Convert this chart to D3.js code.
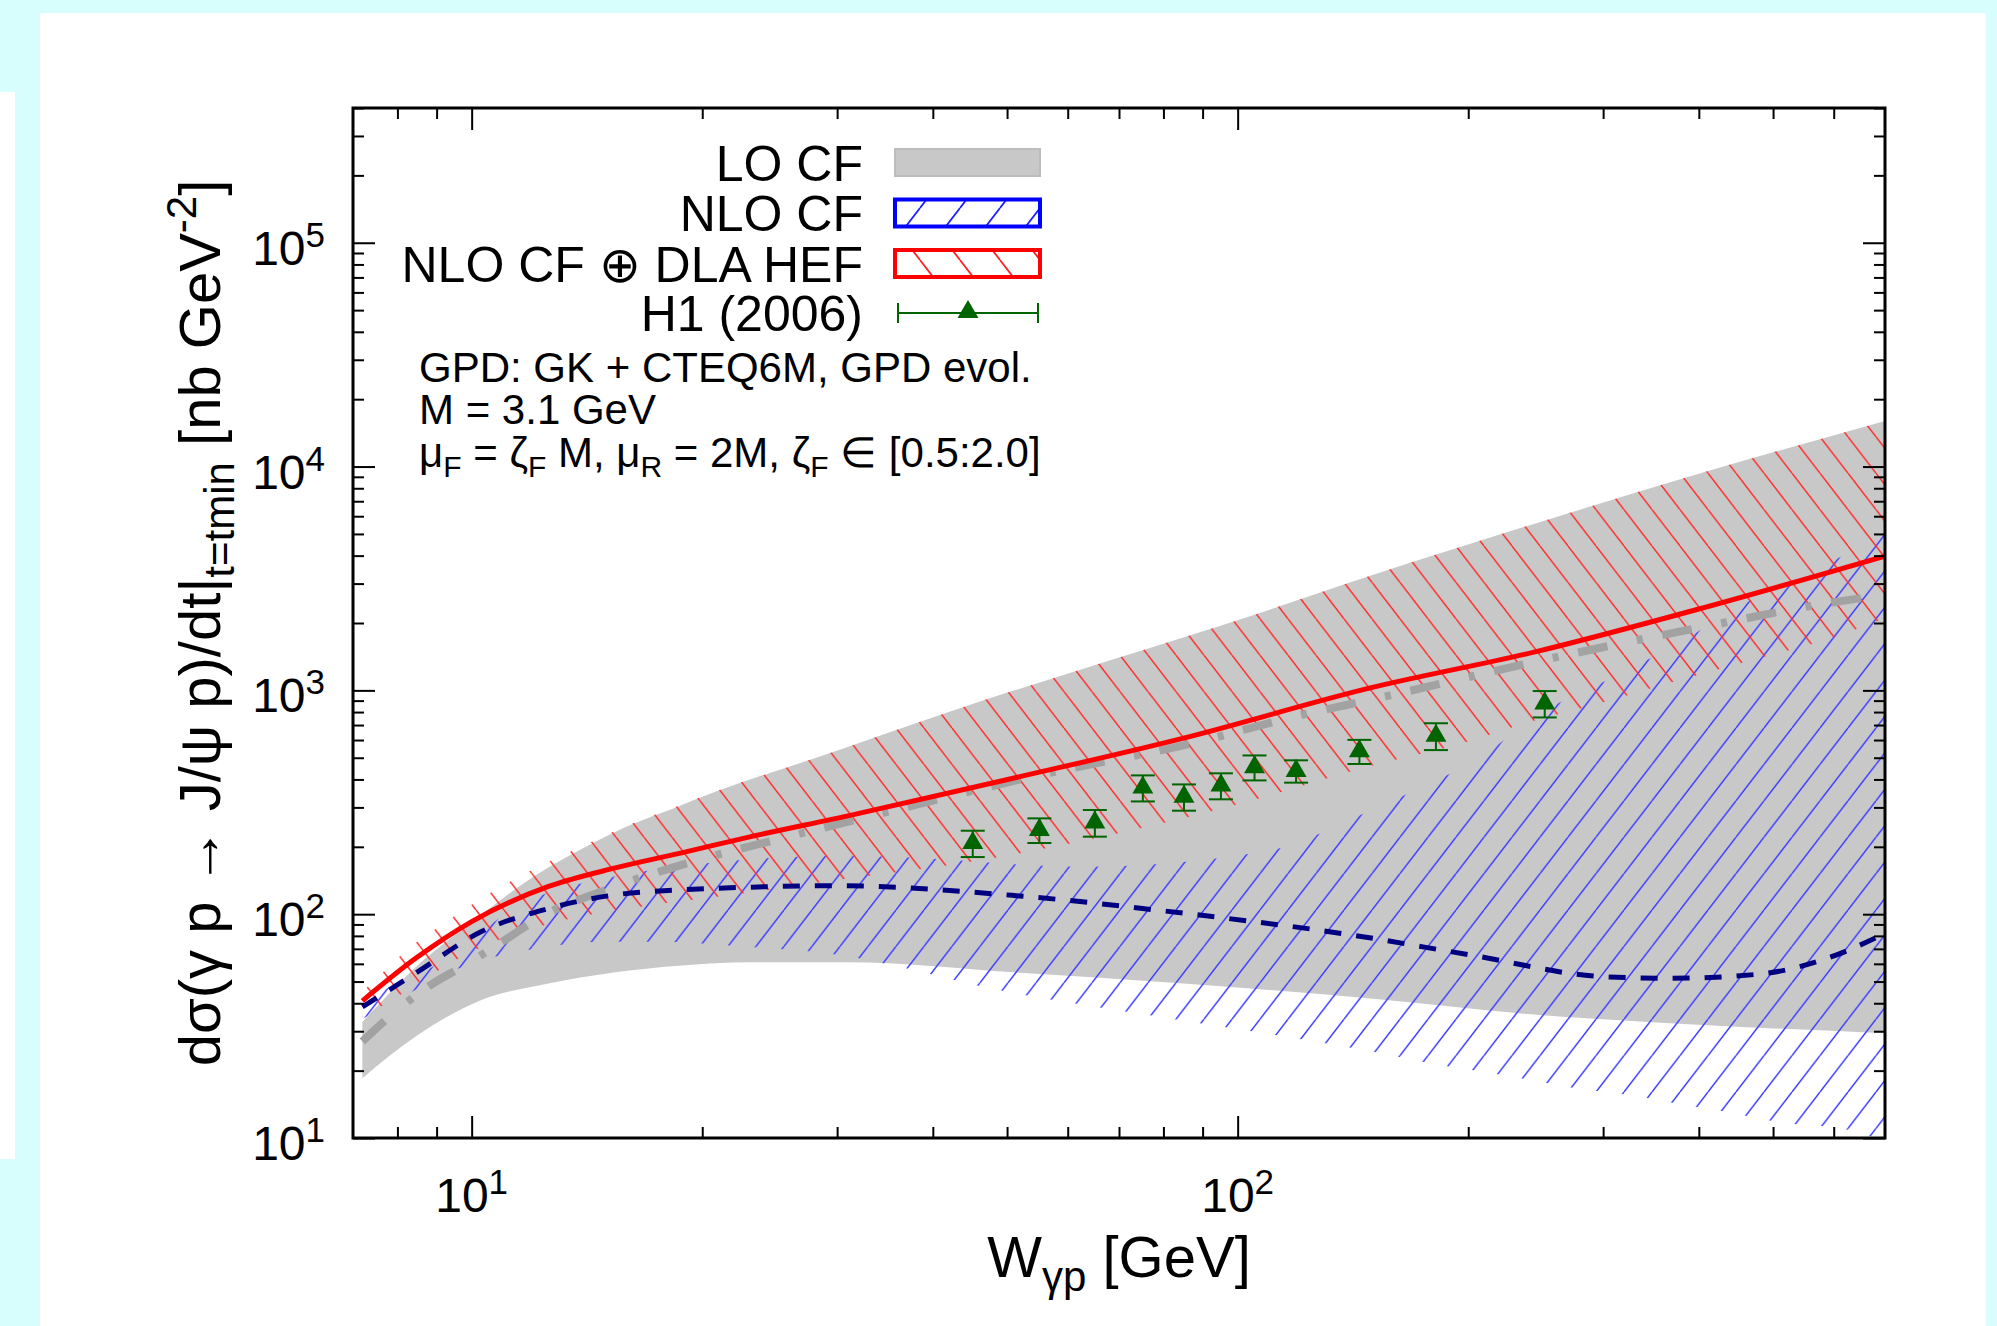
<!DOCTYPE html>
<html>
<head>
<meta charset="utf-8">
<script src="https://cdnjs.cloudflare.com/ajax/libs/d3/7.8.5/d3.min.js"></script>
<style>
  html, body { margin: 0; padding: 0; background: #d8fdfd; }
  svg { display: block; }
  text { font-family: "Liberation Sans", Arial, Helvetica, sans-serif; fill: #000; }
</style>
</head>
<body>
<svg id="chart" width="1997" height="1326"></svg>
<script>
// central curves (W in GeV, dsigma/dt in nb GeV^-2)
const hefW   = [7.2, 8.45, 10, 12.6, 15.4, 18.8, 23, 31, 51.4, 85, 149, 246, 405, 700];
const hefVal = [41, 63.5, 92.7, 133, 161, 188, 221, 275, 408, 612, 1026, 1493, 2336, 3980];

const nloW   = [7.2, 8.45, 10.3, 12.6, 15.4, 18.8, 23, 30, 51.4, 85, 140, 200, 300, 366, 480, 588, 700];
const nloVal = [38.5, 54.5, 83.6, 106, 122, 128.5, 132, 134, 121, 101, 81, 66, 52.6, 51.7, 54, 63.5, 82];

const loW   = [7.2, 7.9, 8.9, 9.7, 11.2, 12.1, 15.4, 19.8, 25.5, 33.7, 54, 89, 118, 156, 258, 430, 558, 700];
const loVal = [27, 36, 49, 58, 79, 94, 133, 175, 219, 278, 412, 590, 760, 940, 1397, 2000, 2377, 2680];

// LO CF band (grey)
const loUpW   = [7.2, 8.45, 10, 12, 14.4, 16.2, 18.3, 20.8, 23.7, 26.8, 31.1, 46.5, 69, 104, 149, 246, 405, 700];
const loUpVal = [33, 58, 92, 146, 208, 252, 296, 352, 412, 473, 562, 900, 1380, 2150, 3250, 5600, 9400, 16000];
const loLoW   = [7.2, 8.45, 10.3, 12.6, 15.4, 18.8, 23, 31, 51, 85, 149, 246, 405, 700];
const loLoVal = [18.5, 28.4, 41.4, 49, 55, 59, 61, 61, 55, 49, 42, 35.5, 32, 29.4];

// NLO CF band (blue hatch)
const nloUpW   = [7.2, 8.8, 11.8, 15.3, 18.6, 22.6, 29.6, 34.4, 62.7, 109, 124, 140, 171, 205, 249, 311, 377, 465, 536, 661, 700];
const nloUpVal = [42, 57, 114, 147, 163, 175, 182, 181, 163, 191, 219, 264, 360, 490, 793, 1156, 1629, 2500, 3075, 4560, 5000];
const nloLoW   = [7.2, 8.2, 9.7, 12.2, 14.8, 17.7, 22.6, 30.8, 38, 44.5, 76, 111, 154, 178, 208, 240, 276, 323, 372, 434, 506, 632, 700];
const nloLoVal = [34, 43.5, 58, 70.5, 75.4, 75.4, 71.7, 65, 56, 49, 35.5, 29, 23.9, 21.6, 19.8, 18.2, 16.7, 15.6, 14.3, 13.1, 11.8, 10.8, 9.6];

// NLO CF + DLA HEF band (red hatch)
const hefUpW   = [7.2, 7.6, 8.3, 9.15, 10.64, 12, 14.4, 16.2, 18.3, 20.8, 23.7, 26.8, 31.1, 46.5, 69, 104, 149, 246, 405, 700];
const hefUpVal = [45, 53.6, 71, 90, 126, 158, 212, 254, 298, 353, 412, 473, 562, 900, 1380, 2150, 3250, 5600, 9400, 16000];
const hefLoW   = [7.2, 7.64, 10, 13, 16.2, 21.9, 30, 46.5, 71.6, 109, 143, 200, 246, 282, 366, 480, 588, 700];
const hefLoVal = [34.8, 39, 68, 93, 106.5, 122, 142, 175, 234, 336, 442, 591, 739, 834, 1079, 1396, 1687, 2100];

// H1 (2006) data
const h1W   = [45.1, 55.1, 65.1, 75.2, 85.1, 95.1, 105.2, 119.2, 144.2, 181.5, 251.7];
const h1Val = [208, 238, 257, 368, 335, 376, 454, 437, 535, 627, 875];
const h1Err = [28, 30, 35, 49, 45, 50, 58, 50, 66, 86, 118];

// axes
const xMajor = [10, 100];
const xMajorExp = ["1", "2"];
const xMinor = [8, 9, 20, 30, 40, 50, 60, 70, 80, 90, 200, 300, 400, 500, 600];
const yMajor = [10, 100, 1000, 10000, 100000];
const yMajorExp = ["1", "2", "3", "4", "5"];
const yMinor = [];
[10, 100, 1000, 10000, 100000].forEach(d => [2, 3, 4, 5, 6, 7, 8, 9].forEach(m => { if (d * m <= 4e5) yMinor.push(d * m); }));

const legendLabels = ["LO CF", "NLO CF", "NLO CF \u2295 DLA HEF", "H1 (2006)"];

const svg = d3.select("#chart");
const L = 353, R = 1885, T = 108, B = 1138;

// page panels
svg.append("rect").attr("x", 0).attr("y", 0).attr("width", 1997).attr("height", 1326).attr("fill", "#d8fdfd");
svg.append("rect").attr("x", 40).attr("y", 13).attr("width", 1946).attr("height", 1313).attr("fill", "#fff");
svg.append("rect").attr("x", 0).attr("y", 92).attr("width", 15).attr("height", 1067).attr("fill", "#fff");

const x = d3.scaleLog().domain([7, 700]).range([L, R]);
const y = d3.scaleLog().domain([10, 4e5]).range([B, T]);

const defs = svg.append("defs");
defs.append("clipPath").attr("id", "plotclip")
  .append("rect").attr("x", L).attr("y", T).attr("width", R - L).attr("height", B - T);

function hatch(id, w, dir, color, sw) {
  const h = w * 1.3;
  const p = defs.append("pattern").attr("id", id).attr("patternUnits", "userSpaceOnUse")
    .attr("width", w).attr("height", h);
  let d;
  if (dir === "/") d = `M${-w},${h}L0,0M0,${h}L${w},0M${w},${h}L${2 * w},0`;
  else d = `M${-w},0L0,${h}M0,0L${w},${h}M${w},0L${2 * w},${h}`;
  p.append("path").attr("d", d).attr("stroke", color).attr("stroke-width", sw).attr("fill", "none");
}
hatch("hBlue", 28, "/", "#4040ff", 1.5);
hatch("hRed", 28, "\\", "#ff3030", 1.5);
hatch("hBlueL", 40, "/", "#2020ff", 1.8);
hatch("hRedL", 40, "\\", "#ff2020", 1.8);

const line = d3.line().x(d => x(d[0])).y(d => y(d[1])).curve(d3.curveMonotoneX);
const pts = (ws, vs) => ws.map((w, i) => [w, vs[i]]);
function band(upW, upV, loW, loV) {
  const lo = pts(loW, loV).reverse();
  return line(pts(upW, upV)) + line(lo).replace(/^M/, "L") + "Z";
}

const plot = svg.append("g").attr("clip-path", "url(#plotclip)");
plot.append("path").attr("d", band(loUpW, loUpVal, loLoW, loLoVal)).attr("fill", "#c8c8c8");
plot.append("path").attr("d", band(nloUpW, nloUpVal, nloLoW, nloLoVal)).attr("fill", "url(#hBlue)");
plot.append("path").attr("d", band(hefUpW, hefUpVal, hefLoW, hefLoVal)).attr("fill", "url(#hRed)");

plot.append("path").attr("d", line(pts(loW, loVal))).attr("fill", "none")
  .attr("stroke", "#a2a2a2").attr("stroke-width", 8).attr("stroke-dasharray", "30,30,6,20");
plot.append("path").attr("d", line(pts(nloW, nloVal))).attr("fill", "none")
  .attr("stroke", "#000080").attr("stroke-width", 5).attr("stroke-dasharray", "17,15");
plot.append("path").attr("d", line(pts(hefW, hefVal))).attr("fill", "none")
  .attr("stroke", "#ff0000").attr("stroke-width", 5);

// H1 points
const green = "#006400";
const tri = d3.symbol().type(d3.symbolTriangle).size(190);
const h1 = plot.selectAll("g.h1").data(h1W.map((w, i) => ({ w, v: h1Val[i], e: h1Err[i] })))
  .join("g").attr("class", "h1");
h1.append("line").attr("x1", d => x(d.w)).attr("x2", d => x(d.w))
  .attr("y1", d => y(d.v + d.e)).attr("y2", d => y(d.v - d.e)).attr("stroke", green).attr("stroke-width", 2);
h1.append("line").attr("x1", d => x(d.w) - 12).attr("x2", d => x(d.w) + 12)
  .attr("y1", d => y(d.v + d.e)).attr("y2", d => y(d.v + d.e)).attr("stroke", green).attr("stroke-width", 2);
h1.append("line").attr("x1", d => x(d.w) - 12).attr("x2", d => x(d.w) + 12)
  .attr("y1", d => y(d.v - d.e)).attr("y2", d => y(d.v - d.e)).attr("stroke", green).attr("stroke-width", 2);
h1.append("path").attr("d", tri).attr("fill", green)
  .attr("transform", d => `translate(${x(d.w)},${y(d.v)})`);

// ticks on all four sides, pointing inwards
function ticks(axisFn, scale, values, size, tr) {
  svg.append("g").attr("transform", tr)
    .call(axisFn(scale).tickValues(values).tickSizeInner(-size).tickSizeOuter(0).tickFormat(() => ""))
    .call(g => g.select(".domain").remove())
    .selectAll("line").attr("stroke", "#000").attr("stroke-width", 2);
}
ticks(d3.axisBottom, x, xMajor, 22, `translate(0,${B})`);
ticks(d3.axisBottom, x, xMinor, 11, `translate(0,${B})`);
ticks(d3.axisTop, x, xMajor, 22, `translate(0,${T})`);
ticks(d3.axisTop, x, xMinor, 11, `translate(0,${T})`);
ticks(d3.axisLeft, y, yMajor, 22, `translate(${L},0)`);
ticks(d3.axisLeft, y, yMinor, 11, `translate(${L},0)`);
ticks(d3.axisRight, y, yMajor, 22, `translate(${R},0)`);
ticks(d3.axisRight, y, yMinor, 11, `translate(${R},0)`);

svg.append("rect").attr("x", L).attr("y", T).attr("width", R - L).attr("height", B - T)
  .attr("fill", "none").attr("stroke", "#000").attr("stroke-width", 3);

// rich text helper: parts = [text, baseline offset, size]
function rich(t, parts) {
  let cur = 0;
  parts.forEach(([s, off, size]) => {
    t.append("tspan").attr("dy", off - cur).attr("font-size", size).text(s);
    cur = off;
  });
  return t;
}

// tick labels
xMajor.forEach((v, i) => {
  rich(svg.append("text").attr("x", x(v)).attr("y", 1212).attr("text-anchor", "middle"),
    [["10", 0, 48], [xMajorExp[i], -18, 35]]);
});
yMajor.forEach((v, i) => {
  rich(svg.append("text").attr("x", 325).attr("y", y(v) + 22).attr("text-anchor", "end"),
    [["10", 0, 48], [yMajorExp[i], -18, 35]]);
});

// axis titles
rich(svg.append("text").attr("x", (L + R) / 2).attr("y", 1277).attr("text-anchor", "middle"),
  [["W", 0, 58], ["\u03b3p", 14, 42], [" [GeV]", 0, 58]]);
rich(svg.append("text").attr("transform", `translate(220,${(T + B) / 2}) rotate(-90)`).attr("text-anchor", "middle"),
  [["d\u03c3(\u03b3 p \u2192 J/\u03c8 p)/dt|", 0, 58], ["t=tmin", 14, 42], [" [nb GeV", 0, 58], ["-2", -24, 42], ["]", 0, 58]]);

// legend
const legRows = [162.5, 213, 263.5, 313];
legendLabels.forEach((s, i) => {
  svg.append("text").attr("x", 863).attr("y", legRows[i] + 18).attr("text-anchor", "end")
    .attr("font-size", 50).text(s);
});
svg.append("rect").attr("x", 895).attr("y", legRows[0] - 13.5).attr("width", 145).attr("height", 27)
  .attr("fill", "#c8c8c8").attr("stroke", "#bcbcbc").attr("stroke-width", 2);
svg.append("rect").attr("x", 895).attr("y", legRows[1] - 13.5).attr("width", 145).attr("height", 27)
  .attr("fill", "url(#hBlueL)").attr("stroke", "#0000ff").attr("stroke-width", 4);
svg.append("rect").attr("x", 895).attr("y", legRows[2] - 13.5).attr("width", 145).attr("height", 27)
  .attr("fill", "url(#hRedL)").attr("stroke", "#ff0000").attr("stroke-width", 4);
const ly = legRows[3];
svg.append("line").attr("x1", 898).attr("x2", 1038).attr("y1", ly).attr("y2", ly).attr("stroke", green).attr("stroke-width", 2);
[898, 1038].forEach(cx => svg.append("line").attr("x1", cx).attr("x2", cx).attr("y1", ly - 10).attr("y2", ly + 10)
  .attr("stroke", green).attr("stroke-width", 2));
svg.append("path").attr("d", tri).attr("fill", green).attr("transform", `translate(968,${ly - 1})`);

// annotations
rich(svg.append("text").attr("x", 419).attr("y", 382), [["GPD: GK + CTEQ6M, GPD evol.", 0, 42]]);
rich(svg.append("text").attr("x", 419).attr("y", 424), [["M = 3.1 GeV", 0, 42]]);
rich(svg.append("text").attr("x", 419).attr("y", 467), [
  ["\u03bc", 0, 42], ["F", 10, 30], [" = \u03b6", 0, 42], ["F", 10, 30], [" M, \u03bc", 0, 42], ["R", 10, 30],
  [" = 2M, \u03b6", 0, 42], ["F", 10, 30], [" \u2208 [0.5:2.0]", 0, 42]]);
</script>
</body>
</html>
